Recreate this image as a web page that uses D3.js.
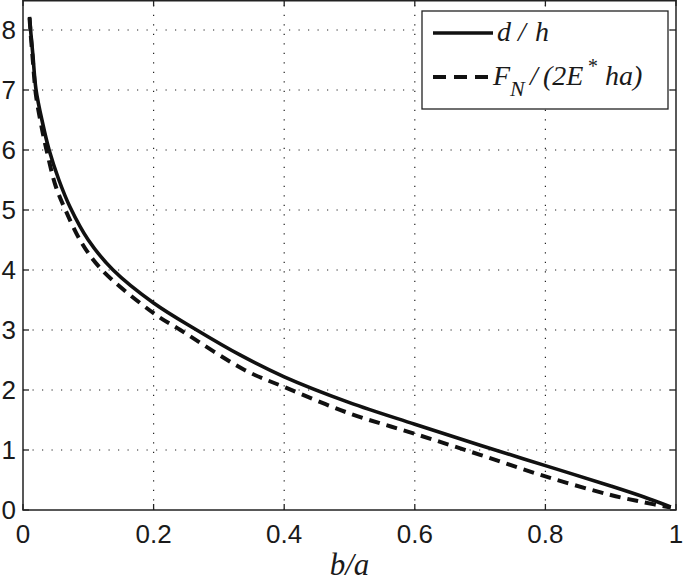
<!DOCTYPE html>
<html>
<head>
<meta charset="utf-8">
<script src="https://cdn.jsdelivr.net/npm/d3@7"></script>
<style>
  html, body { margin: 0; padding: 0; background: #fff; }
  svg { display: block; }
</style>
</head>
<body>
<svg id="chart" width="685" height="586"></svg>
<script>
// ---- data ----
const xTicks = [0, 0.2, 0.4, 0.6, 0.8, 1];
const yTicks = [0, 1, 2, 3, 4, 5, 6, 7, 8];
const xTickLabels = ["0", "0.2", "0.4", "0.6", "0.8", "1"];
const yTickLabels = ["0", "1", "2", "3", "4", "5", "6", "7", "8"];

const solidX = [0.010, 0.012, 0.015, 0.020, 0.030, 0.040, 0.055, 0.072, 0.100, 0.138, 0.200, 0.266, 0.333, 0.400, 0.500, 0.600, 0.700, 0.800, 0.900, 0.950, 0.992];
const solidY = [8.22, 7.95, 7.60, 7.00, 6.45, 6.00, 5.50, 5.05, 4.50, 4.00, 3.45, 3.00, 2.58, 2.22, 1.79, 1.43, 1.08, 0.74, 0.40, 0.22, 0.05];

const dashX = [0.010, 0.012, 0.015, 0.020, 0.030, 0.036, 0.050, 0.065, 0.090, 0.121, 0.200, 0.241, 0.340, 0.400, 0.500, 0.600, 0.700, 0.800, 0.900, 0.950, 0.992];
const dashY = [8.20, 7.90, 7.50, 6.90, 6.30, 6.00, 5.40, 5.00, 4.45, 4.00, 3.28, 3.00, 2.33, 2.05, 1.61, 1.27, 0.92, 0.56, 0.25, 0.13, 0.04];

// ---- layout ----
const svg = d3.select("#chart");
const L = 23, R = 676, T = 0, B = 510;
const x = d3.scaleLinear().domain([0, 1]).range([L, R]);
const y = d3.scaleLinear().domain([0, 8.5]).range([B, T]);

// grid
const grid = svg.append("g");
grid.selectAll("line.gx").data(xTicks.slice(1, -1)).enter().append("line")
  .attr("x1", d => x(d)).attr("x2", d => x(d))
  .attr("y1", B).attr("y2", T)
  .attr("stroke", "#222").attr("stroke-width", 1.2)
  .attr("stroke-dasharray", "1.2,8.3");
grid.selectAll("line.gy").data(yTicks.slice(1)).enter().append("line")
  .attr("x1", L).attr("x2", R)
  .attr("y1", d => y(d)).attr("y2", d => y(d))
  .attr("stroke", "#222").attr("stroke-width", 1.2)
  .attr("stroke-dasharray", "1.2,8.3");

// curves
const line = d3.line().x(d => x(d[0])).y(d => y(d[1])).curve(d3.curveCatmullRom.alpha(0.5));
const solidData = solidX.map((v, i) => [v, solidY[i]]);
const dashData = dashX.map((v, i) => [v, dashY[i]]);

svg.append("path").datum(dashData).attr("d", line)
  .attr("fill", "none").attr("stroke", "#111").attr("stroke-width", 4)
  .attr("stroke-dasharray", "11,7");
svg.append("path").datum(solidData).attr("d", line)
  .attr("fill", "none").attr("stroke", "#111").attr("stroke-width", 3.6);

// axes box
svg.append("rect").attr("x", L).attr("y", T + 0.75).attr("width", R - L).attr("height", B - T - 0.75)
  .attr("fill", "none").attr("stroke", "#222").attr("stroke-width", 1.5);

// ticks (inside, all four sides)
const tl = 6;
const tk = svg.append("g").attr("stroke", "#222").attr("stroke-width", 1.3);
xTicks.forEach(d => {
  tk.append("line").attr("x1", x(d)).attr("x2", x(d)).attr("y1", B).attr("y2", B - tl);
  tk.append("line").attr("x1", x(d)).attr("x2", x(d)).attr("y1", T).attr("y2", T + tl);
});
yTicks.forEach(d => {
  tk.append("line").attr("x1", L).attr("x2", L + tl).attr("y1", y(d)).attr("y2", y(d));
  tk.append("line").attr("x1", R).attr("x2", R - tl).attr("y1", y(d)).attr("y2", y(d));
});

// tick labels
const lf = "'Liberation Sans', Arial, Helvetica, sans-serif";
svg.selectAll("text.xl").data(xTicks).enter().append("text")
  .attr("x", d => x(d)).attr("y", 543)
  .attr("text-anchor", "middle")
  .attr("font-family", lf).attr("font-size", 26).attr("fill", "#1a1a1a")
  .text((d, i) => xTickLabels[i]);
svg.selectAll("text.yl").data(yTicks).enter().append("text")
  .attr("x", 16).attr("y", d => y(d) + 9)
  .attr("text-anchor", "end")
  .attr("font-family", lf).attr("font-size", 26).attr("fill", "#1a1a1a")
  .text((d, i) => yTickLabels[i]);

// axis label
const sf = "'Liberation Serif', 'Times New Roman', serif";
svg.append("text").attr("x", x(0.5)).attr("y", 575)
  .attr("text-anchor", "middle")
  .attr("font-family", sf).attr("font-style", "italic").attr("font-size", 31).attr("fill", "#1a1a1a")
  .text("b/a");

// legend
const lg = svg.append("g");
lg.append("rect").attr("x", 422).attr("y", 11).attr("width", 246).attr("height", 98)
  .attr("fill", "#fff").attr("stroke", "#222").attr("stroke-width", 1.3);
lg.append("line").attr("x1", 433).attr("x2", 493).attr("y1", 33).attr("y2", 33)
  .attr("stroke", "#111").attr("stroke-width", 3.6);
lg.append("line").attr("x1", 433).attr("x2", 491).attr("y1", 77).attr("y2", 77)
  .attr("stroke", "#111").attr("stroke-width", 4).attr("stroke-dasharray", "13,8");
const t1 = lg.append("text").attr("y", 41)
  .attr("font-family", sf).attr("font-style", "italic").attr("font-size", 28).attr("fill", "#1a1a1a");
t1.append("tspan").attr("x", 497).text("d");
t1.append("tspan").attr("x", 518).text("/");
t1.append("tspan").attr("x", 535).text("h");
const t2 = lg.append("text").attr("y", 85)
  .attr("font-family", sf).attr("font-style", "italic").attr("font-size", 28).attr("fill", "#1a1a1a");
t2.append("tspan").attr("x", 493).text("F");
t2.append("tspan").attr("x", 510).attr("dy", 11).attr("font-size", 22).text("N");
t2.append("tspan").attr("x", 530).attr("dy", -11).text("/");
t2.append("tspan").attr("x", 543).text("(2E");
t2.append("tspan").attr("x", 587).attr("dy", -12).attr("font-size", 20).text("*");
t2.append("tspan").attr("x", 605).attr("dy", 12).text("ha)");
</script>
</body>
</html>
